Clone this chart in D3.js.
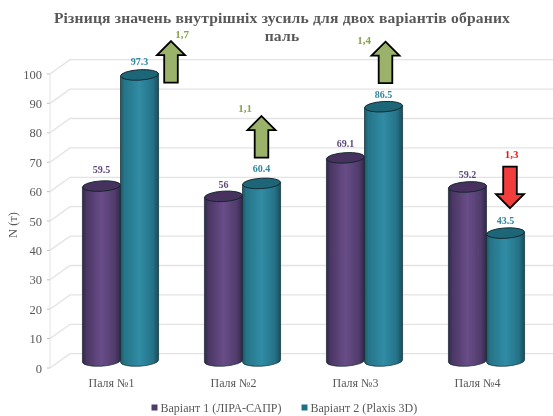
<!DOCTYPE html>
<html><head><meta charset="utf-8">
<script src="https://cdn.jsdelivr.net/npm/d3@7"></script>
<style>html,body{margin:0;padding:0;background:#fff}svg{display:block}text{font-family:"Liberation Serif",serif}</style>
</head><body><div id="c"></div>
<script>
const titleLines=["Різниця значень внутрішніх зусиль для двох варіантів обраних","паль"];
const categories=["Паля №1","Паля №2","Паля №3","Паля №4"];
const seriesNames=["Варіант 1 (ЛІРА-САПР)","Варіант 2 (Plaxis 3D)"];
const series1=[59.5,56,69.1,59.2];
const series2=[97.3,60.4,86.5,43.5];
const labels1=["59.5","56","69.1","59.2"];
const labels2=["97.3","60.4","86.5","43.5"];
const yTicks=[0,10,20,30,40,50,60,70,80,90,100];
const diffLabels=["1,7","1,1","1,4","1,3"];
const diffTips=[108.8,83.3,108.6,52];
const diffDir=["up","up","up","down"];

const W=553,H=416;
const svg=d3.select("#c").append("svg").attr("width",W).attr("height",H);
const defs=svg.append("defs");
function grad(id,stops){const g=defs.append("linearGradient").attr("id",id);
 stops.forEach(([o,c])=>g.append("stop").attr("offset",o).attr("stop-color",c));}
grad("g1",[[0,"#33264a"],[.1,"#4a3663"],[.5,"#684d88"],[.85,"#513c6c"],[1,"#33264a"]]);
grad("g2",[[0,"#1a5a69"],[.1,"#267488"],[.5,"#308ca5"],[.85,"#257287"],[1,"#154e5d"]]);
const blur=defs.append("filter").attr("id","soft");blur.append("feGaussianBlur").attr("stdDeviation",0.45);

const x=d3.scaleBand().domain(categories).range([59.5,547.5]);
const y=d3.scaleLinear().domain([0,100]).range([361,67]);
const dx=20,dyBack=-14.3,dyFront=7; // wall projection
const root=svg.append("g").attr("filter","url(#soft)");

// title
root.append("g").selectAll("text").data(titleLines).join("text")
 .attr("x",282).attr("y",(d,i)=>23+i*18).attr("text-anchor","middle")
 .attr("font-size",15.6).attr("font-weight","bold").attr("fill","#595959").attr("letter-spacing",0.18).text(d=>d);

// grid
const grid=root.append("g").selectAll("g").data(yTicks).join("g");
grid.append("path").attr("fill","none").attr("stroke","#e3e3e3").attr("stroke-width",1.3)
 .attr("d",d=>{const f=y(d)+dyFront,b=f+dyBack;return `M50,${f}L${50+dx},${b}L${W},${b}`;});
grid.append("path").attr("stroke","#bfbfbf").attr("d",d=>`M47,${y(d)+dyFront}H50`);
grid.append("text").attr("x",42).attr("y",d=>y(d)+dyFront+4.5).attr("text-anchor","end")
 .attr("font-size",12.5).attr("fill","#595959").text(d=>d);
root.append("path").attr("d",`M50,${y(100)+dyFront}V${y(0)+dyFront}`).attr("stroke","#e3e3e3").attr("fill","none");

// axis title
root.append("text").attr("transform","translate(17,225) rotate(-90)").attr("text-anchor","middle")
 .attr("font-size",12.5).attr("fill","#595959").text("N (т)");

// cylinders
const bw=x.step()*0.312,ry=5.2,tilt=-3.5;
const lift=Math.sin(-tilt*Math.PI/180)*bw/2;
function cyl(vals,labs,side,fill,top,lab,gaps){
 const g=root.append("g").selectAll("g").data(categories).join("g");
 const cx=(d)=>x(d)+x.bandwidth()/2+side*bw/2;
 g.append("path").attr("fill",`url(#${fill})`).attr("stroke","#122a30").attr("stroke-width",.7)
  .attr("d",(d,i)=>{const c=cx(d),t=y(vals[i]),b=y(0),r=bw/2;
   return `M${c-r},${t+lift}V${b+lift}A${r},${ry} ${tilt} 0 0 ${c+r},${b-lift}V${t-lift}Z`;});
 g.append("ellipse").attr("cx",0).attr("cy",0).attr("rx",bw/2).attr("ry",ry)
  .attr("transform",(d,i)=>`translate(${cx(d)},${y(vals[i])}) rotate(${tilt})`)
  .attr("fill",top).attr("stroke","#10242a").attr("stroke-width",.9);
 g.append("text").attr("x",cx).attr("y",(d,i)=>y(vals[i])-gaps[i]+3.5).attr("text-anchor","middle")
  .attr("font-size",10).attr("font-weight","bold").attr("fill",lab).text((d,i)=>labs[i]);
}
cyl(series1,labels1,-1,"g1","#46325e","#5f497a",[16.5,12,14,12.7]);
cyl(series2,labels2,1,"g2","#1f6678","#31859b",[13,15,11.7,13]);

// arrows
const arrowX=categories.map((d,i)=>x(d)+x.bandwidth()/2+[50.5,19,21,23.5][i]);
const textX=[182,245,364,511.5];
const textY=[38,112,44,158];
const ag=root.append("g").selectAll("g").data(categories).join("g");
ag.append("path").attr("stroke","#000").attr("stroke-width",1.8).attr("stroke-linejoin","miter")
 .attr("fill",(d,i)=>diffDir[i]==="up"?"#9bb26b":"#f23c3c")
 .attr("d",(d,i)=>{const c=arrowX[i],t=y(diffTips[i]),s=diffDir[i]==="up"?1:-1;
  const hl=14*s,len=41.5*s,hw=14,sw=6.8;
  return `M${c},${t}L${c+hw},${t+hl}H${c+sw}V${t+len}H${c-sw}V${t+hl}H${c-hw}Z`;});
ag.append("text").attr("x",(d,i)=>textX[i]).attr("y",(d,i)=>textY[i]).attr("text-anchor","middle")
 .attr("font-size",11).attr("font-weight","bold").attr("fill",(d,i)=>diffDir[i]==="up"?"#8aa052":"#f01818").text((d,i)=>diffLabels[i]);

// category labels
root.append("g").selectAll("text").data(categories).join("text")
 .attr("x",d=>x(d)+x.bandwidth()/2-9).attr("y",386.5).attr("text-anchor","middle")
 .attr("font-size",12).attr("fill","#595959").text(d=>d);

// legend
const lx=[151.5,301.5],lc=["#4f3a69","#1f7186"];
const lg=root.append("g").selectAll("g").data(seriesNames).join("g");
lg.append("rect").attr("x",(d,i)=>lx[i]).attr("y",404.5).attr("width",6).attr("height",6).attr("fill",(d,i)=>lc[i]);
lg.append("text").attr("x",(d,i)=>lx[i]+9).attr("y",411.5).attr("font-size",12).attr("fill","#595959").text(d=>d);
</script></body></html>
